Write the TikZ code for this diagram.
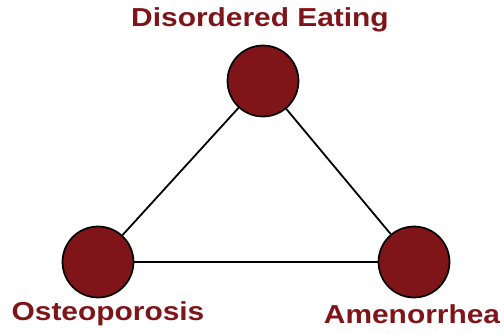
\documentclass[tikz,border=0pt]{standalone}
\usepackage{fontspec}
\setmainfont{Liberation Sans}
\usetikzlibrary{calc, positioning}
\definecolor{triadred}{HTML}{7F1518}
\tikzset{
  corner/.style={circle, draw=black, line width=1.7pt, fill=triadred, minimum size=71pt, inner sep=0pt},
  corntext/.style={text=triadred, xscale=1.15, font=\fontsize{26}{29}\selectfont\bfseries},
  link/.style={line width=1.8pt}
}
\begin{document}
\begin{tikzpicture}[x=1pt, y=-1pt]
\useasboundingbox (0,0) rectangle (504,333);
\node[corner] (DE) at (263,81) {};
\node[corner] (OS) at (98,262) {};
\node[corner] (AM) at (414,262) {};
\draw[link] (DE) -- (OS);
\draw[link] (DE) -- (AM);
\draw[link] (OS) -- (AM);
\node[corntext] (DEtxt) at (260,20) {Disordered Eating};
\node[corntext] (OStxt) at (108,314) {Osteoporosis};
\node[corntext] (AMtxt) at (412,314) {Amenorrhea};
\end{tikzpicture}
\end{document}
